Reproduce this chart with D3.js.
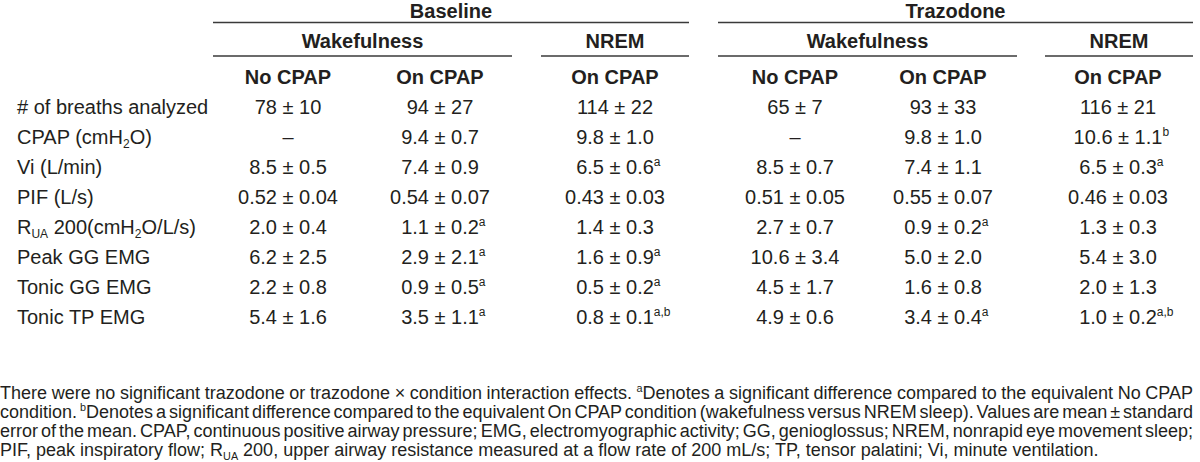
<!DOCTYPE html>
<html>
<head>
<meta charset="utf-8">
<script src="https://cdn.jsdelivr.net/npm/d3@7"></script>
<style>
  html, body { margin: 0; padding: 0; background: #fff; }
  svg text { font-family: "Liberation Sans Narrow", "Arial Narrow", "Liberation Sans", sans-serif; fill: #231f20; }
</style>
</head>
<body>
<svg id="chart" width="1200" height="462"></svg>
<script>
// ---------- DATA ----------
const treatments = ["Baseline", "Trazodone"];
const states = ["Wakefulness", "NREM", "Wakefulness", "NREM"];
const conditions = ["No CPAP", "On CPAP", "On CPAP", "No CPAP", "On CPAP", "On CPAP"];
const rowLabels = [
  "# of breaths analyzed",
  "CPAP (cmH_2_O)",
  "Vi (L/min)",
  "PIF (L/s)",
  "R_UA_ 200(cmH_2_O/L/s)",
  "Peak GG EMG",
  "Tonic GG EMG",
  "Tonic TP EMG"
];
const baselineWakeNoCPAP = ["78 ± 10", "–", "8.5 ± 0.5", "0.52 ± 0.04", "2.0 ± 0.4", "6.2 ± 2.5", "2.2 ± 0.8", "5.4 ± 1.6"];
const baselineWakeOnCPAP = ["94 ± 27", "9.4 ± 0.7", "7.4 ± 0.9", "0.54 ± 0.07", "1.1 ± 0.2^a^", "2.9 ± 2.1^a^", "0.9 ± 0.5^a^", "3.5 ± 1.1^a^"];
const baselineNremOnCPAP = ["114 ± 22", "9.8 ± 1.0", "6.5 ± 0.6^a^", "0.43 ± 0.03", "1.4 ± 0.3", "1.6 ± 0.9^a^", "0.5 ± 0.2^a^", "0.8 ± 0.1^a,b^"];
const trazWakeNoCPAP = ["65 ± 7", "–", "8.5 ± 0.7", "0.51 ± 0.05", "2.7 ± 0.7", "10.6 ± 3.4", "4.5 ± 1.7", "4.9 ± 0.6"];
const trazWakeOnCPAP = ["93 ± 33", "9.8 ± 1.0", "7.4 ± 1.1", "0.55 ± 0.07", "0.9 ± 0.2^a^", "5.0 ± 2.0", "1.6 ± 0.8", "3.4 ± 0.4^a^"];
const trazNremOnCPAP = ["116 ± 21", "10.6 ± 1.1^b^", "6.5 ± 0.3^a^", "0.46 ± 0.03", "1.3 ± 0.3", "5.4 ± 3.0", "2.0 ± 1.3", "1.0 ± 0.2^a,b^"];
const footnoteLines = [
  "There were no significant trazodone or trazodone × condition interaction effects. ^a^Denotes a significant difference compared to the equivalent No CPAP",
  "condition. ^b^Denotes a significant difference compared to the equivalent On CPAP condition (wakefulness versus NREM sleep). Values are mean ± standard",
  "error of the mean. CPAP, continuous positive airway pressure; EMG, electromyographic activity; GG, genioglossus; NREM, nonrapid eye movement sleep;",
  "PIF, peak inspiratory flow; R_UA_ 200, upper airway resistance measured at a flow rate of 200 mL/s; TP, tensor palatini; Vi, minute ventilation."
];

// ---------- LAYOUT ----------
const svg = d3.select("#chart");
const FS = 20, FSF = 18;
const colCenters = [288, 440, 615, 795, 943, 1118];
const columns = [baselineWakeNoCPAP, baselineWakeOnCPAP, baselineNremOnCPAP, trazWakeNoCPAP, trazWakeOnCPAP, trazNremOnCPAP];
const treatSpans = [[213, 689], [718, 1193]];
const stateSpans = [[213, 512], [541, 689], [718, 1017], [1045, 1193]];

const yRow = d3.scalePoint().domain(rowLabels).range([106, 316]);

// rich text: _sub_  ^sup^
function parseRich(str) {
  const segs = [];
  const re = /(_[^_]+_|\^[^^]+\^)/g;
  let last = 0, m;
  while ((m = re.exec(str)) !== null) {
    if (m.index > last) segs.push({t: str.slice(last, m.index), k: "n"});
    const tok = m[0];
    segs.push({t: tok.slice(1, -1), k: tok[0] === "_" ? "sub" : "sup"});
    last = m.index + tok.length;
  }
  if (last < str.length) segs.push({t: str.slice(last), k: "n"});
  return segs;
}
function richText(sel, str, fs) {
  const segs = parseRich(str);
  let shift = 0;
  segs.forEach(s => {
    const ts = sel.append("tspan").text(s.t);
    let target = 0;
    if (s.k === "sub") { ts.attr("font-size", fs * 0.6); target = fs * 0.22; }
    else if (s.k === "sup") { ts.attr("font-size", fs * 0.6); target = -fs * 0.38; }
    const dy = target - shift;
    if (dy !== 0) ts.attr("dy", dy);
    shift = target;
  });
  return sel;
}

// header texts
const gHead = svg.append("g").attr("font-weight", "bold").attr("font-size", FS);
gHead.selectAll("text.treat").data(treatments).join("text")
  .attr("class", "treat")
  .attr("x", (d, i) => (treatSpans[i][0] + treatSpans[i][1]) / 2)
  .attr("y", 18).attr("text-anchor", "middle").text(d => d);
gHead.selectAll("text.state").data(states).join("text")
  .attr("class", "state")
  .attr("x", (d, i) => (stateSpans[i][0] + stateSpans[i][1]) / 2)
  .attr("y", 48).attr("text-anchor", "middle").text(d => d);
gHead.selectAll("text.cond").data(conditions).join("text")
  .attr("class", "cond")
  .attr("x", (d, i) => colCenters[i])
  .attr("y", 84).attr("text-anchor", "middle").text(d => d);

// rules
const gLines = svg.append("g").attr("stroke", "#3a3a3a").attr("stroke-width", 1.6);
gLines.selectAll("line.t").data(treatSpans).join("line")
  .attr("x1", d => d[0]).attr("x2", d => d[1]).attr("y1", 22.5).attr("y2", 22.5);
gLines.selectAll("line.s").data(stateSpans).join("line")
  .attr("x1", d => d[0]).attr("x2", d => d[1]).attr("y1", 56).attr("y2", 56);

// row labels
const gRows = svg.append("g").attr("font-size", FS);
rowLabels.forEach(lbl => {
  richText(gRows.append("text").attr("x", 17).attr("y", yRow(lbl) + 7.5), lbl, FS);
});

// cells (centre the main value; superscripts hang to the right)
columns.forEach((col, ci) => {
  col.forEach((v, ri) => {
    const segs = parseRich(v);
    const main = segs.filter(s => s.k === "n").map(s => s.t).join("");
    const t = gRows.append("text")
      .attr("y", yRow(rowLabels[ri]) + 7.5)
      .attr("text-anchor", "start");
    richText(t, v, FS);
    const tmp = gRows.append("text").attr("font-size", FS).text(main);
    const w = tmp.node().getComputedTextLength();
    tmp.remove();
    t.attr("x", colCenters[ci] - w / 2);
  });
});

// footnote, justified lines (word spacing stretched/shrunk to fill the measure)
const gFoot = svg.append("g").attr("font-size", FSF);
const footY = d3.scalePoint().domain(d3.range(footnoteLines.length)).range([399, 456]);
footnoteLines.forEach((line, i) => {
  const t = gFoot.append("text").attr("x", 0).attr("y", footY(i));
  richText(t, line, FSF);
  if (i < footnoteLines.length - 1) {
    const w = t.node().getComputedTextLength();
    const spaces = (line.match(/ /g) || []).length;
    t.attr("word-spacing", (1193 - w) / spaces);
  }
});
</script>
</body>
</html>
